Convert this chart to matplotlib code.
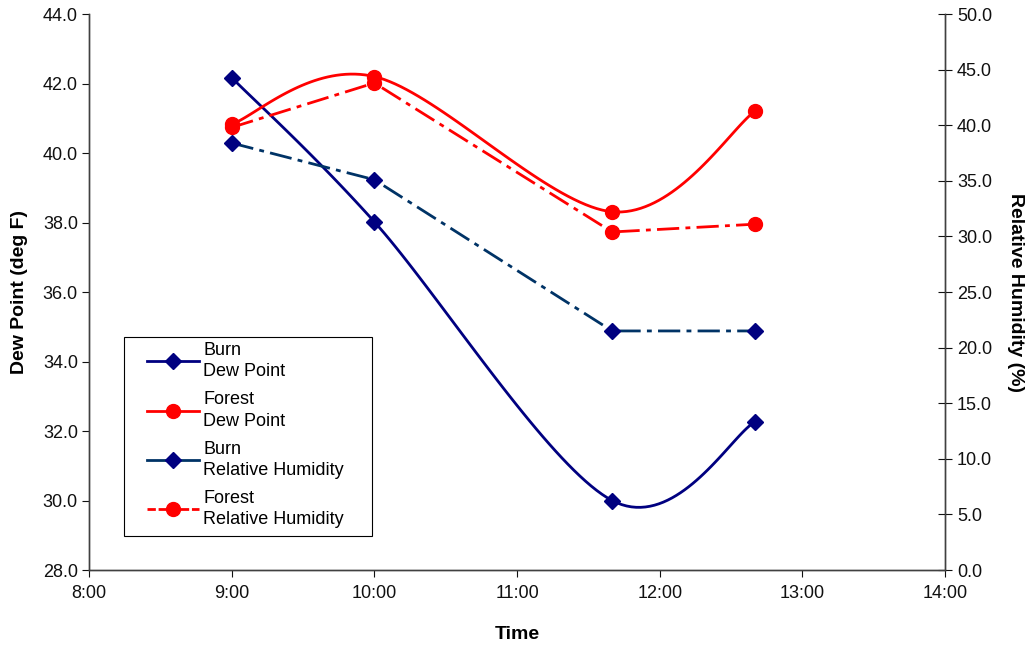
import numpy as np
import matplotlib
matplotlib.use("Agg")
import matplotlib.pyplot as plt
from matplotlib.ticker import FuncFormatter, MultipleLocator
from matplotlib.lines import Line2D
from matplotlib.patches import Rectangle

plt.rcParams['font.family'] = ['Liberation Sans', 'DejaVu Sans']
plt.rcParams['lines.scale_dashes'] = False

# time in hours (9:00, 10:00, 11:40, 12:40)
hours = [9.0, 10.0, 11 + 40 / 60, 12 + 40 / 60]
burn_dew = [42.17, 38.02, 30.0, 32.26]
forest_dew = [40.83, 42.2, 38.31, 41.2]
burn_rh = [38.4, 35.1, 21.5, 21.5]
forest_rh = [39.8, 43.8, 30.4, 31.1]


def smooth(x, y, n=40):
    # excel-style smoothing: bezier segments through the points
    p = np.column_stack([np.asarray(x, float), np.asarray(y, float)])
    pts = [p[0]]
    t = np.linspace(0, 1, n)[1:]
    for i in range(len(p) - 1):
        p0 = p[i - 1] if i > 0 else p[i]
        p3 = p[i + 2] if i + 2 < len(p) else p[i + 1]
        c1 = p[i] + (p[i + 1] - p0) / 6
        c2 = p[i + 1] - (p3 - p[i]) / 6
        seg = ((1 - t) ** 3)[:, None] * p[i] + (3 * (1 - t) ** 2 * t)[:, None] * c1 \
            + (3 * (1 - t) * t ** 2)[:, None] * c2 + (t ** 3)[:, None] * p[i + 1]
        pts.extend(seg)
    pts = np.array(pts)
    return pts[:, 0], pts[:, 1]


navy = '#000080'
dark = '#003366'
red = '#FF0000'
dashdot = (0, (16, 4.5, 3.5, 4.5))
fs = 13

fig = plt.figure(figsize=(10.28, 6.46), dpi=100)
ax = fig.add_axes([0.0866, 0.1176, 0.8327, 0.8607])
ax2 = ax.twinx()

sx, sy = smooth(hours, burn_dew)
ax.plot(sx, sy, color=navy, lw=2)
ax.plot(hours, burn_dew, ls='none', marker='D', ms=8, color=navy)
sx, sy = smooth(hours, forest_dew)
ax.plot(sx, sy, color=red, lw=2)
ax.plot(hours, forest_dew, ls='none', marker='o', ms=10, color=red)

ax2.plot(hours, burn_rh, color=dark, lw=2, ls=dashdot, marker='D', ms=8,
         markerfacecolor=navy, markeredgecolor=navy)
ax2.plot(hours, forest_rh, color=red, lw=2, ls=dashdot, marker='o', ms=10)

ax.set_xlim(8, 14)
ax.set_ylim(28, 44)
ax2.set_ylim(0, 50)
ax.xaxis.set_major_locator(MultipleLocator(1))
ax.xaxis.set_major_formatter(FuncFormatter(lambda v, p: f"{int(v)}:{int(round((v % 1) * 60)):02d}"))
ax.yaxis.set_major_locator(MultipleLocator(2))
ax.yaxis.set_major_formatter(FuncFormatter(lambda v, p: f"{v:.1f}"))
ax2.yaxis.set_major_locator(MultipleLocator(5))
ax2.yaxis.set_major_formatter(FuncFormatter(lambda v, p: f"{v:.1f}"))

for a in (ax, ax2):
    a.spines['top'].set_visible(False)
    for s in a.spines.values():
        s.set_color('#404040')
        s.set_linewidth(1)
ax.tick_params(axis='both', direction='out', length=5, labelsize=fs, colors='#101010')
ax2.tick_params(axis='y', direction='inout', length=10, labelsize=fs, colors='#101010')
ax.tick_params(axis='y', pad=3)
ax.tick_params(axis='x', pad=6)

ax.set_xlabel('Time', fontsize=14, fontweight='bold', labelpad=17)
ax.set_ylabel('Dew Point (deg F)', fontsize=14, fontweight='bold', labelpad=11)
ax2.set_ylabel('Relative Humidity (%)', fontsize=14, fontweight='bold', rotation=-90, labelpad=23)

handles = [
    Line2D([], [], color=navy, lw=2, marker='D', ms=8),
    Line2D([], [], color=red, lw=2, marker='o', ms=10),
    Line2D([], [], color=dark, lw=2, marker='D', ms=8, markerfacecolor=navy, markeredgecolor=navy),
    Line2D([], [], color=red, lw=2, ls=(0, (6, 2)), marker='o', ms=10),
]
labels = ['Burn\nDew Point', 'Forest\nDew Point', 'Burn\nRelative Humidity', 'Forest\nRelative Humidity']
leg = ax.legend(handles, labels, loc='upper left', bbox_to_anchor=(0.0678, 0.41),
                borderaxespad=0, fontsize=fs, handlelength=2.9, labelspacing=0.62,
                frameon=False, borderpad=0, handletextpad=0.2)
for t in leg.get_texts():
    t.set_linespacing(1.32)
leg.set_zorder(5)
ax.add_patch(Rectangle((0.0409, 0.0612), 0.2897, 0.3578, transform=ax.transAxes,
                       facecolor='white', edgecolor='black', lw=0.8, zorder=4))

fig.savefig('out.png', dpi=100)
